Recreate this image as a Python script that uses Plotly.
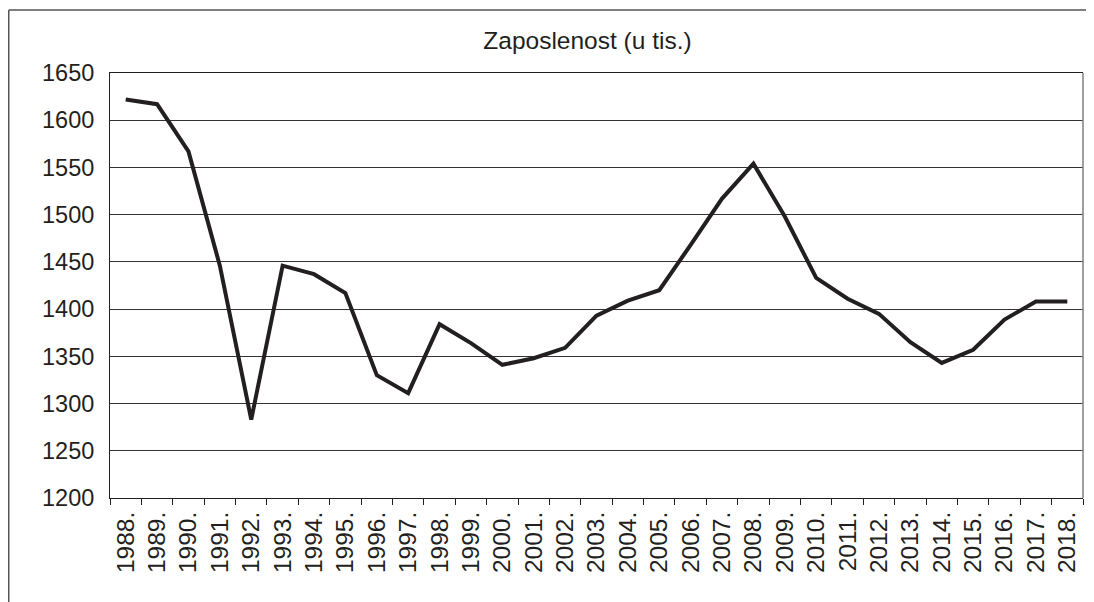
import plotly.graph_objects as go

years = [f"{y}." for y in range(1988, 2019)]
employment = [1622, 1617, 1567, 1446, 1283, 1446, 1437, 1417, 1330, 1311,
              1384, 1364, 1341, 1348, 1359, 1393, 1409, 1420, 1468, 1517,
              1554, 1498, 1433, 1411, 1395, 1365, 1343, 1357, 1389, 1408, 1408]
y_ticks = [1200, 1250, 1300, 1350, 1400, 1450, 1500, 1550, 1600, 1650]
title_text = "Zaposlenost (u tis.)"

INK = "#231f20"
FONT = "Liberation Sans, Arial, sans-serif"

# page body has an 8px margin, so the figure is sized/placed to compensate
OFF = 8
W, H = 1094 - OFF, 602 - OFF
L, T = 110 - OFF, 73 - OFF
pw, ph = 973, 425
R, B = W - L - pw, H - T - ph

fig = go.Figure()
fig.add_trace(go.Scatter(
    x=years, y=employment, mode="lines",
    line=dict(color=INK, width=4), showlegend=False, hoverinfo="x+y",
))

fig.update_layout(
    width=W, height=H,
    margin=dict(l=L, r=R, t=T, b=B, autoexpand=False),
    paper_bgcolor="white", plot_bgcolor="white",
    font=dict(family=FONT, size=23, color=INK),
    title=dict(text=title_text, x=(587.5 - OFF) / W, xref="container", xanchor="center",
               y=1 - (40 - OFF) / H, yref="container", yanchor="middle",
               font=dict(family=FONT, size=24.5, color=INK)),
)
fig.update_xaxes(
    type="category", range=[-0.5, len(years) - 0.5],
    tickson="boundaries", ticks="outside", ticklen=6, tickwidth=1, tickcolor=INK,
    tickangle=-90, showgrid=False, showline=True, linecolor=INK, linewidth=1,
    mirror=True, tickfont=dict(size=24.5), automargin=False, ticklabelstandoff=3,
)
fig.update_yaxes(
    range=[1200, 1650], tickvals=y_ticks, ticktext=[str(v) for v in y_ticks],
    showgrid=True, gridcolor="#333333", gridwidth=1,
    showline=True, linecolor=INK, linewidth=1, ticks="", ticklen=0,
    zeroline=False, tickfont=dict(size=23.5), automargin=False, ticklabelstandoff=10,
)

# right border of plot area (grey)
fig.add_shape(type="line", xref="paper", yref="paper", x0=1, x1=1, y0=0, y1=1,
              line=dict(color="#808080", width=1.5))
# outer chart border (top and left visible)
ox0 = (8 - OFF - L + 0.75) / pw
ox1 = (W - L) / pw
oy_top = 1 + (T - (10 - OFF)) / ph
oy_bot = -(H - T - ph) / ph
fig.add_shape(type="line", xref="paper", yref="paper", x0=ox0, x1=ox1, y0=oy_top, y1=oy_top,
              line=dict(color="#555555", width=1.5))
fig.add_shape(type="line", xref="paper", yref="paper", x0=ox0, x1=ox0, y0=oy_top, y1=oy_bot,
              line=dict(color="#555555", width=1.5))

fig.write_html("out.html")
